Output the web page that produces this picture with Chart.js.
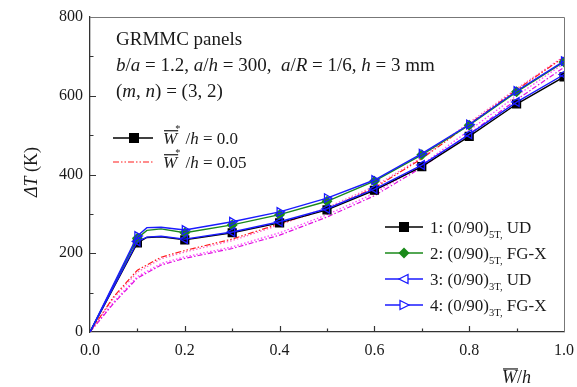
<!DOCTYPE html>
<html>
<head>
<meta charset="utf-8">
<script src="https://cdn.jsdelivr.net/npm/chart.js@4.4.1/dist/chart.umd.min.js"></script>
<style>
  html, body { margin: 0; padding: 0; background: #fff; }
  #wrap { width: 577px; height: 387px; position: relative; }
</style>
</head>
<body>
<div id="wrap"><canvas id="c" width="577" height="387"></canvas></div>
<script>
// Deflection ratio W/h (abscissa) and temperature rise ΔT (K)
const xPerfect = [0, 0.1, 0.12, 0.15, 0.2, 0.3, 0.4, 0.5, 0.6, 0.7, 0.8, 0.9, 1.0];
const ud5T   = [0, 226, 240, 242, 234, 252, 277, 310, 360, 420, 497, 579, 648];
const fgx5T  = [0, 238, 258, 262, 252, 272, 298, 332, 383, 450, 525, 610, 686];
const ud3T   = [0, 230, 241, 243, 236, 254, 280, 313, 363, 424, 502, 584, 654];
const fgx3T  = [0, 244, 265, 266, 259, 280, 305, 340, 386, 453, 527, 612, 688];

// Imperfect panels, W*/h = 0.05
const xImperfect = [0, 0.05, 0.1, 0.15, 0.2, 0.3, 0.4, 0.5, 0.6, 0.7, 0.8, 0.9, 1.0];
const ud5Timp  = [0, 90, 157, 190, 207, 236, 275, 312, 366, 440, 528, 615, 698];
const fgx5Timp = [0, 86, 152, 186, 203, 232, 272, 316, 370, 443, 532, 618, 700];
const ud3Timp  = [0, 73, 137, 170, 187, 212, 246, 292, 346, 418, 503, 590, 672];
const fgx3Timp = [0, 76, 141, 174, 191, 216, 252, 298, 352, 425, 512, 600, 682];

const xTicks = [0, 0.2, 0.4, 0.6, 0.8, 1.0];
const yTicks = [0, 200, 400, 600, 800];

const SERIF = '"Liberation Serif", "Times New Roman", serif';

function pts(xs, ys) { return xs.map((x, i) => ({ x: x, y: ys[i] })); }
function onMarker(ctx) {
  const v = ctx.raw ? ctx.raw.x : 0;
  return v > 0.05 && Math.abs(v * 10 - Math.round(v * 10)) < 1e-6;
}

const datasets = [
  { label: '1', data: pts(xPerfect, ud5T), borderColor: '#000', backgroundColor: '#000',
    pointStyle: 'rect', pointRadius: c => onMarker(c) ? 5.5 : 0, borderWidth: 1.4, order: 4 },
  { label: '2', data: pts(xPerfect, fgx5T), borderColor: '#1a8a1a', backgroundColor: '#1a8a1a',
    pointStyle: 'rectRot', pointRadius: c => onMarker(c) ? 4.5 : 0, borderWidth: 1.4, order: 3 },
  { label: '3', data: pts(xPerfect, ud3T), borderColor: '#1a1aff', backgroundColor: 'rgba(255,255,255,0)',
    pointStyle: 'triangle', pointRotation: -90, pointRadius: c => onMarker(c) ? 5 : 0,
    pointBorderWidth: 1.3, borderWidth: 1.4, order: 2 },
  { label: '4', data: pts(xPerfect, fgx3T), borderColor: '#1a1aff', backgroundColor: 'rgba(255,255,255,0)',
    pointStyle: 'triangle', pointRotation: 90, pointRadius: c => onMarker(c) ? 5 : 0,
    pointBorderWidth: 1.3, borderWidth: 1.4, order: 1 },
  { label: '1*', data: pts(xImperfect, ud5Timp), borderColor: '#ff1a1a', borderDash: [6, 2, 1.5, 2, 1.5, 2],
    pointRadius: 0, borderWidth: 1.2, order: 6 },
  { label: '2*', data: pts(xImperfect, fgx5Timp), borderColor: '#ff66cc', borderDash: [1.5, 2],
    pointRadius: 0, borderWidth: 1.3, order: 7 },
  { label: '3*', data: pts(xImperfect, ud3Timp), borderColor: '#e010e0', borderDash: [5, 2, 1.5, 2],
    pointRadius: 0, borderWidth: 1.2, order: 8 },
  { label: '4*', data: pts(xImperfect, fgx3Timp), borderColor: '#ff44ff', borderDash: [1.5, 2],
    pointRadius: 0, borderWidth: 1.3, order: 9 }
];
datasets.forEach(d => { d.tension = 0; d.fill = false; });

// draws a run of text segments; style: '' normal, 'i' italic, 'sub' subscript
function rich(ctx, x, y, segs, size) {
  let cx = x;
  segs.forEach(s => {
    const [t, st] = s;
    let fs = size, dy = 0, style = '';
    if (st === 'i') style = 'italic ';
    if (st === 'sub') { fs = size * 0.62; dy = size * 0.3; }
    if (st === 'sup') { fs = size * 0.62; dy = -size * 0.45; }
    ctx.font = style + fs + 'px ' + SERIF;
    ctx.fillText(t, cx, y + dy);
    cx += ctx.measureText(t).width;
  });
  return cx;
}

// italic W with an overbar, optionally followed by a superscript star
function wBar(ctx, x, y, size, star) {
  ctx.font = 'italic ' + size + 'px ' + SERIF;
  const w = ctx.measureText('W').width;
  ctx.fillText('W', x, y);
  ctx.save();
  ctx.lineWidth = 1.2;
  ctx.strokeStyle = ctx.fillStyle;
  ctx.beginPath();
  ctx.moveTo(x + 1, y - size * 0.78);
  ctx.lineTo(x + w + 1, y - size * 0.78);
  ctx.stroke();
  ctx.restore();
  let cx = x + w;
  if (star) {
    ctx.font = (size * 0.6) + 'px ' + SERIF;
    ctx.fillText('*', cx - 2, y - size * 0.72);
    cx += 4;
  }
  return cx;
}

const decor = {
  id: 'decor',
  afterDraw(chart) {
    const ctx = chart.ctx;
    const a = chart.chartArea;
    const xs = chart.scales.x, ys = chart.scales.y;
    ctx.save();

    // frame on top and right
    ctx.strokeStyle = '#777';
    ctx.lineWidth = 1;
    ctx.beginPath();
    ctx.moveTo(a.left, a.top + 0.5);
    ctx.lineTo(a.right + 0.5, a.top + 0.5);
    ctx.lineTo(a.right + 0.5, a.bottom);
    ctx.stroke();

    // inward tick marks
    ctx.strokeStyle = '#333';
    ctx.lineWidth = 1.2;
    ctx.beginPath();
    for (let i = 1; i < 10; i++) {
      const px = Math.round(xs.getPixelForValue(i / 10)) + 0.5;
      const len = i % 2 === 0 ? 6 : 3.5;
      ctx.moveTo(px, a.bottom);
      ctx.lineTo(px, a.bottom - len);
    }
    for (let v = 100; v < 800; v += 100) {
      const py = Math.round(ys.getPixelForValue(v)) + 0.5;
      const len = v % 200 === 0 ? 6 : 3.5;
      ctx.moveTo(a.left, py);
      ctx.lineTo(a.left + len, py);
    }
    ctx.stroke();

    ctx.fillStyle = '#1a1a1a';
    ctx.textBaseline = 'alphabetic';
    ctx.textAlign = 'left';

    // panel description
    const fs = 19;
    ctx.font = fs + 'px ' + SERIF;
    ctx.fillText('GRMMC panels', 116, 45);
    rich(ctx, 116, 71, [
      ['b', 'i'], ['/', ''], ['a', 'i'], [' = 1.2, ', ''], ['a', 'i'], ['/', ''], ['h', 'i'],
      [' = 300,  ', ''], ['a', 'i'], ['/', ''], ['R', 'i'], [' = 1/6, ', ''], ['h', 'i'], [' = 3 mm', '']
    ], fs);
    rich(ctx, 116, 97, [['(', ''], ['m', 'i'], [', ', ''], ['n', 'i'], [') = (3, 2)', '']], fs);

    // line-style legend
    const ls = 17;
    ctx.strokeStyle = '#000';
    ctx.lineWidth = 1.3;
    ctx.setLineDash([]);
    ctx.beginPath(); ctx.moveTo(113, 138); ctx.lineTo(153, 138); ctx.stroke();
    ctx.fillStyle = '#000';
    ctx.fillRect(129, 133, 10, 10);
    ctx.strokeStyle = '#ff1a1a';
    ctx.lineWidth = 1.2;
    ctx.setLineDash([6, 2, 1.5, 2, 1.5, 2]);
    ctx.beginPath(); ctx.moveTo(113, 162); ctx.lineTo(153, 162); ctx.stroke();
    ctx.setLineDash([]);
    ctx.fillStyle = '#1a1a1a';
    let cx = wBar(ctx, 163, 144, ls, true);
    rich(ctx, cx, 144, [[' /', ''], ['h', 'i'], [' = 0.0', '']], ls);
    cx = wBar(ctx, 163, 168, ls, true);
    rich(ctx, cx, 168, [[' /', ''], ['h', 'i'], [' = 0.05', '']], ls);

    // series legend
    const rows = [
      { y: 227, color: '#000', mark: 'sq', sub: '5T', tail: 'UD' },
      { y: 253, color: '#1a8a1a', mark: 'di', sub: '5T', tail: 'FG-X' },
      { y: 279, color: '#1a1aff', mark: 'tl', sub: '3T', tail: 'UD' },
      { y: 305, color: '#1a1aff', mark: 'tr', sub: '3T', tail: 'FG-X' }
    ];
    rows.forEach((r, i) => {
      ctx.strokeStyle = r.color;
      ctx.fillStyle = r.color;
      ctx.lineWidth = 1.3;
      ctx.beginPath(); ctx.moveTo(385, r.y); ctx.lineTo(423, r.y); ctx.stroke();
      const mx = 404;
      if (r.mark === 'sq') {
        ctx.fillRect(mx - 5, r.y - 5, 10, 10);
      } else if (r.mark === 'di') {
        ctx.beginPath();
        ctx.moveTo(mx, r.y - 5.5); ctx.lineTo(mx + 5.5, r.y);
        ctx.lineTo(mx, r.y + 5.5); ctx.lineTo(mx - 5.5, r.y);
        ctx.closePath(); ctx.fill();
      } else {
        const d = r.mark === 'tl' ? -1 : 1;
        ctx.fillStyle = '#fff';
        ctx.beginPath();
        ctx.moveTo(mx + d * 5, r.y);
        ctx.lineTo(mx - d * 4, r.y - 4.5);
        ctx.lineTo(mx - d * 4, r.y + 4.5);
        ctx.closePath(); ctx.fill(); ctx.stroke();
      }
      ctx.fillStyle = '#1a1a1a';
      const end = rich(ctx, 430, r.y + 6, [[(i + 1) + ': (0/90)', '']], 17);
      const e2 = rich(ctx, end, r.y + 6, [[r.sub + ',', 'sub']], 17);
      rich(ctx, e2, r.y + 6, [[' ' + r.tail, '']], 17);
    });

    // axis titles
    ctx.fillStyle = '#1a1a1a';
    ctx.save();
    ctx.translate(37, 172);
    ctx.rotate(-Math.PI / 2);
    ctx.textAlign = 'left';
    const parts = [['ΔT', 'i'], [' (K)', '']];
    let tw = 0;
    parts.forEach(p => { ctx.font = (p[1] === 'i' ? 'italic ' : '') + '18px ' + SERIF; tw += ctx.measureText(p[0]).width; });
    rich(ctx, -tw / 2, 0, parts, 18);
    ctx.restore();

    cx = wBar(ctx, 502, 383, 18, false);
    rich(ctx, cx, 383, [['/', ''], ['h', 'i']], 18);

    ctx.restore();
  }
};

new Chart(document.getElementById('c'), {
  type: 'line',
  data: { datasets: datasets },
  options: {
    responsive: false,
    animation: false,
    events: [],
    layout: { padding: { left: 0, right: 13, top: 17, bottom: 0 } },
    plugins: { legend: { display: false }, tooltip: { enabled: false } },
    scales: {
      x: {
        type: 'linear', min: 0, max: 1,
        afterFit: s => { s.height = 55; s.paddingLeft = 0; s.paddingRight = 0; },
        afterBuildTicks: s => { s.ticks = xTicks.map(v => ({ value: v })); },
        grid: { display: false, drawTicks: false },
        border: { display: true, color: '#333', width: 1.3 },
        ticks: {
          padding: 9, color: '#1a1a1a', maxRotation: 0,
          font: { family: SERIF, size: 16 },
          callback: v => v.toFixed(1)
        }
      },
      y: {
        type: 'linear', min: 0, max: 800,
        afterFit: s => { s.width = 90; s.paddingTop = 0; s.paddingBottom = 0; },
        afterBuildTicks: s => { s.ticks = yTicks.map(v => ({ value: v })); },
        grid: { display: false, drawTicks: false },
        border: { display: true, color: '#333', width: 1.3 },
        ticks: {
          padding: 7, color: '#1a1a1a',
          font: { family: SERIF, size: 16 },
          callback: v => String(v)
        }
      }
    }
  },
  plugins: [decor]
});
</script>
</body>
</html>
